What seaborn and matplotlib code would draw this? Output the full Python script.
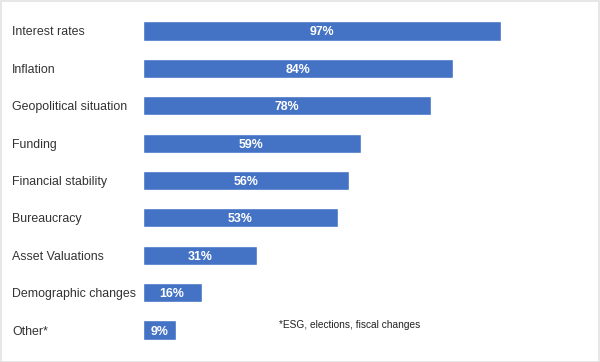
import matplotlib
matplotlib.use("Agg")
import matplotlib.pyplot as plt
import matplotlib.transforms as mtransforms
import seaborn as sns
import pandas as pd

# data
categorias = ["Interest rates", "Inflation", "Geopolitical situation", "Funding",
              "Financial stability", "Bureaucracy", "Asset Valuations",
              "Demographic changes", "Other*"]
valores = [97, 84, 78, 59, 56, 53, 31, 16, 9]
nota = "*ESG, elections, fiscal changes"

df = pd.DataFrame({"categoria": categorias, "valor": valores})

sns.set_theme(style="white")
plt.rcParams["font.family"] = ["Liberation Sans", "DejaVu Sans"]

fig = plt.figure(figsize=(6, 3.62), dpi=100)
ax = fig.add_axes([142.5 / 600, 1 - 348.7 / 362, 369.5 / 600, (348.7 - 12.3) / 362])

sns.barplot(data=df, y="categoria", x="valor", orient="h", color="#4472C4",
            saturation=1, width=0.51, ax=ax)
ax.set_xlim(0, 100)
ax.set_ylim(8.5, -0.5)
ax.set_xlabel("")
ax.set_ylabel("")
ax.set_xticks([])
ax.set_yticks([])
sns.despine(ax=ax, left=True, bottom=True)

# rotulos das categorias, alinhados a esquerda
trans = mtransforms.blended_transform_factory(fig.transFigure, ax.transData)
for i, (cat, v) in enumerate(zip(categorias, valores)):
    ax.text(12 / 600, i, cat, transform=trans, ha="left", va="center_baseline",
            fontsize=8.9, color="#333333")
    ax.text(v / 2, i, f"{v}%", ha="center", va="center_baseline", fontsize=8.9,
            fontweight="bold", color="white")

fig.text(279 / 600, 1 - 324 / 362, nota, ha="left", va="center_baseline",
         fontsize=7.3, color="#222222")

# borda cinza clara
fig.patches.append(plt.Rectangle((0.001, 0.001), 0.997, 0.996, transform=fig.transFigure,
                                 fill=False, edgecolor="#e3e3e3", linewidth=1.2))

fig.savefig("out.png", dpi=100)
